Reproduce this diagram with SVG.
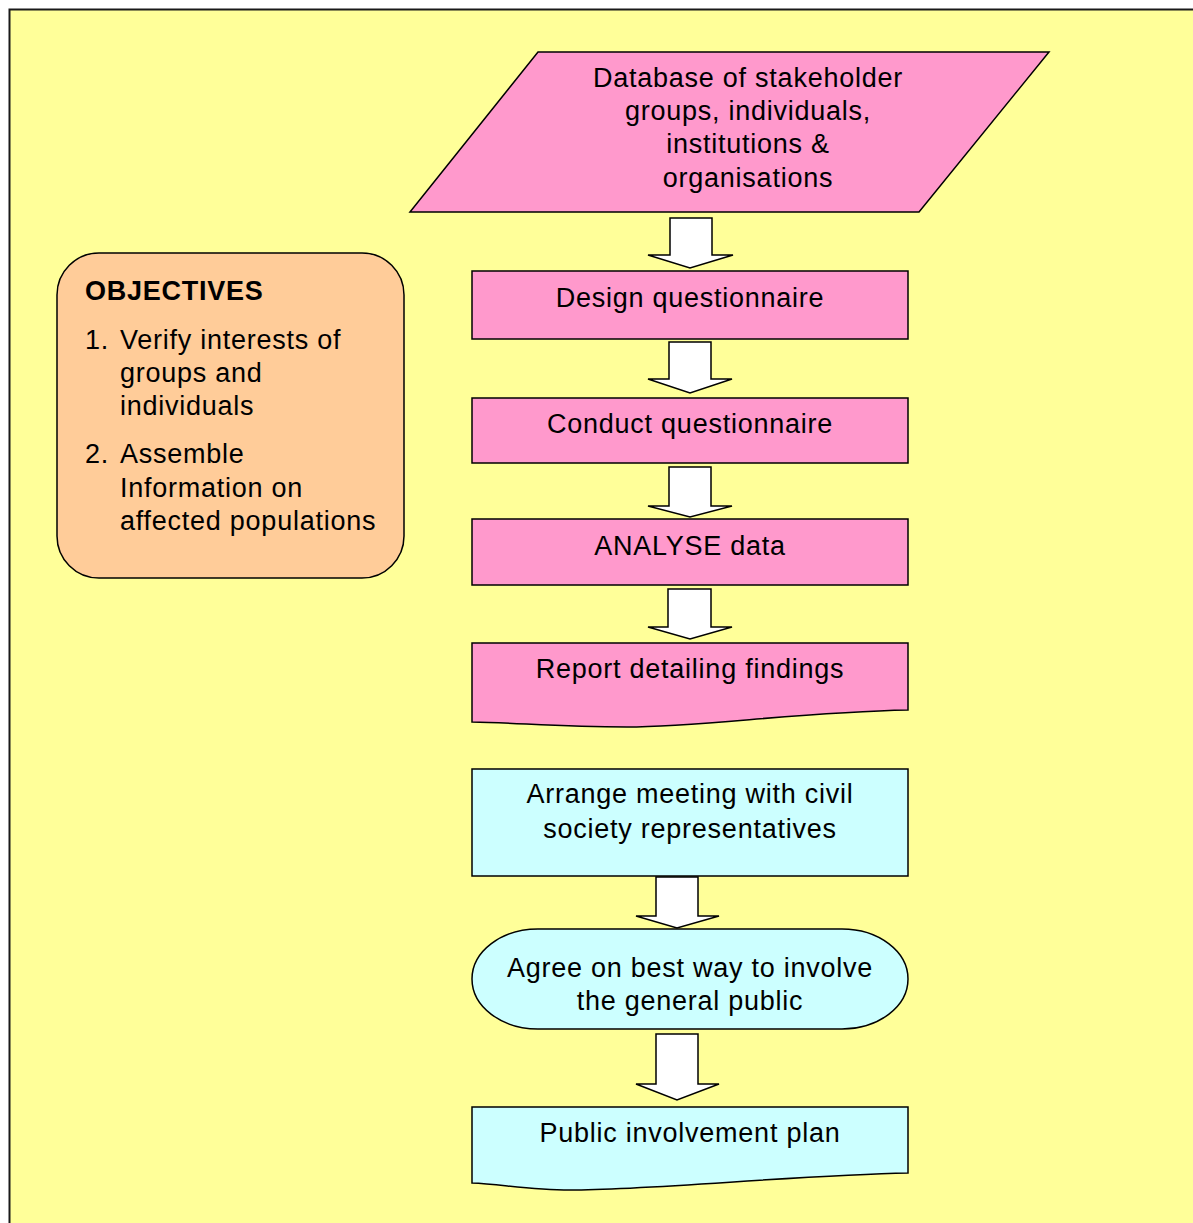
<svg xmlns="http://www.w3.org/2000/svg" width="1193" height="1223" viewBox="0 0 1193 1223">
<defs>
<style>
.bg{fill:#FFFF99;stroke:#1a1a1a;stroke-width:2}
.pink{fill:#FF99CC;stroke:#000;stroke-width:1.5}
.cyan{fill:#CCFFFF;stroke:#000;stroke-width:1.5}
.orange{fill:#FFCC99;stroke:#000;stroke-width:1.5}
.arrow{fill:#FFFFFF;stroke:#000;stroke-width:1.5;stroke-linejoin:miter}
text{font-family:"Liberation Sans",Arial,sans-serif;font-size:27px;fill:#000;letter-spacing:0.75px}
.c{text-anchor:middle}
.b{font-weight:bold}
</style>
</defs>
<rect x="0" y="0" width="1193" height="1223" fill="#FFFFFF"/>
<rect class="bg" x="9.5" y="9.5" width="1200" height="1230"/>

<g id="objectives">
<rect class="orange" x="57" y="253" width="347" height="325" rx="42" ry="42"/>
<text class="b" x="85" y="300">OBJECTIVES</text>
<text x="85" y="349">1.</text>
<text x="120" y="349">Verify interests of</text>
<text x="120" y="382">groups and</text>
<text x="120" y="415">individuals</text>
<text x="85" y="463">2.</text>
<text x="120" y="463">Assemble</text>
<text x="120" y="497">Information on</text>
<text x="120" y="530">affected populations</text>
</g>

<g id="database">
<polygon class="pink" points="410,212 538,52 1049,52 919,212"/>
<text class="c" x="748" y="87">Database of stakeholder</text>
<text class="c" x="748" y="120">groups, individuals,</text>
<text class="c" x="748" y="153">institutions &amp;</text>
<text class="c" x="748" y="187">organisations</text>
</g>

<g id="design">
<rect class="pink" x="472" y="271" width="436" height="68"/>
<text class="c" x="690" y="307">Design questionnaire</text>
</g>

<g id="conduct">
<rect class="pink" x="472" y="398" width="436" height="65"/>
<text class="c" x="690" y="433">Conduct questionnaire</text>
</g>

<g id="analyse">
<rect class="pink" x="472" y="519" width="436" height="66"/>
<text class="c" x="690" y="555">ANALYSE data</text>
</g>

<g id="report">
<path class="pink" d="M472,643 H908 V710 C800,712 700,727 627,727 C560,727 520,723 472,722 Z"/>
<text class="c" x="690" y="678">Report detailing findings</text>
</g>

<g id="arrange">
<rect class="cyan" x="472" y="769" width="436" height="107"/>
<text class="c" x="690" y="803">Arrange meeting with civil</text>
<text class="c" x="690" y="838">society representatives</text>
</g>

<g id="agree">
<rect class="cyan" x="472" y="929" width="436" height="100" rx="66" ry="50"/>
<text class="c" x="690" y="977">Agree on best way to involve</text>
<text class="c" x="690" y="1010">the general public</text>
</g>

<g id="plan">
<path class="cyan" d="M472,1107 H908 V1173 C800,1175 650,1190 570,1190 C530,1190 500,1184 472,1183 Z"/>
<text class="c" x="690" y="1142">Public involvement plan</text>
</g>

<g id="connectors">
<polygon class="arrow" points="670,218 712,218 712,255 733,255 690,268 648,255 670,255"/>
<polygon class="arrow" points="669,342 711,342 711,379 732,379 690,393 648,379 669,379"/>
<polygon class="arrow" points="669,467 711,467 711,506 732,506 690,517 648,506 669,506"/>
<polygon class="arrow" points="668,589 711,589 711,627 732,627 690,639 648,627 668,627"/>
<polygon class="arrow" points="656,877 698,877 698,916 719,916 677,928 636,916 656,916"/>
<polygon class="arrow" points="656,1034 698,1034 698,1084 719,1084 677,1100 636,1084 656,1084"/>
</g>
</svg>
